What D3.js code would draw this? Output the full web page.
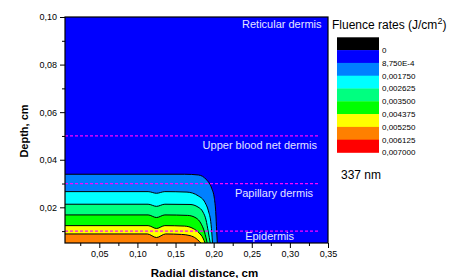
<!DOCTYPE html>
<html>
<head>
<meta charset="utf-8">
<script src="https://cdn.jsdelivr.net/npm/d3@7"></script>
<style>
  body { margin: 0; background: #fff; }
  text { font-family: Arial, "Liberation Sans", sans-serif; }
</style>
</head>
<body>
<svg id="chart" width="453" height="278"></svg>
<script>
// legend levels, J/cm2
var legendLabels = ["0", "8,750E-4", "0,001750", "0,002625", "0,003500", "0,004375", "0,005250", "0,006125", "0,007000"];
var legendColors = ["#000000", "#0000ff", "#0080ff", "#00ffff", "#00ff80", "#00ff00", "#ffff00", "#ff8000", "#ff0000"];

var xTicks = [0.05, 0.10, 0.15, 0.20, 0.25, 0.30, 0.35];
var yTicks = [0.02, 0.04, 0.06, 0.08, 0.10];

// contour boundaries: [radial distance, depth]
var bandDodger = [[0.005,0.0339],[0.162,0.0339],[0.1799,0.0336],[0.1909,0.0315],[0.1974,0.0280],[0.2009,0.0238],[0.2027,0.0182],[0.204,0.0098],[0.2048,0.005]];
var bandCyan   = [[0.005,0.0266],[0.114,0.0266],[0.125,0.0259],[0.136,0.0266],[0.165,0.0264],[0.1799,0.0248],[0.1887,0.0220],[0.1931,0.0185],[0.1966,0.0128],[0.1985,0.005]];
var bandSpring = [[0.005,0.0213],[0.114,0.0213],[0.125,0.0204],[0.136,0.0213],[0.169,0.0212],[0.1795,0.0201],[0.186,0.0180],[0.190,0.0147],[0.193,0.0096],[0.1955,0.005]];
var bandGreen  = [[0.005,0.0168],[0.114,0.0168],[0.125,0.0157],[0.136,0.0168],[0.166,0.0166],[0.177,0.0155],[0.183,0.0134],[0.188,0.0096],[0.1915,0.005]];
var bandYellow = [[0.005,0.0123],[0.114,0.0123],[0.125,0.0111],[0.136,0.0123],[0.162,0.0121],[0.173,0.0111],[0.181,0.0092],[0.186,0.0071],[0.1887,0.005]];
var bandOrange = [[0.005,0.0088],[0.113,0.0088],[0.125,0.0073],[0.137,0.0088],[0.158,0.0086],[0.169,0.0081],[0.177,0.0069],[0.1814,0.0056],[0.1834,0.005]];
var bands = [[bandDodger, 2], [bandCyan, 3], [bandSpring, 4], [bandGreen, 5], [bandYellow, 6], [bandOrange, 7]];

// layer borders (depth) and their names
var layerDepths = [0.05, 0.03, 0.01];
var layerNames = [
  {name: "Reticular dermis", r: 0.3415, d: 0.0953},
  {name: "Upper blood net dermis", r: 0.3355, d: 0.0446},
  {name: "Papillary dermis", r: 0.3305, d: 0.0244},
  {name: "Epidermis", r: 0.3055, d: 0.0061}
];

var margin = {left: 65, top: 17};
var w = 263, h = 226;
var svg = d3.select("#chart");
var g = svg.append("g").attr("transform", "translate(" + margin.left + "," + margin.top + ")");

var x = d3.scaleLinear().domain([0.005, 0.35]).range([0, w]);
var y = d3.scaleLinear().domain([0.005, 0.10]).range([h, 0]);
var comma = function(v) { return d3.format(".2f")(v).replace(".", ","); };

svg.append("defs").append("clipPath").attr("id", "clip")
  .append("rect").attr("width", w).attr("height", h);

var plot = g.append("g").attr("clip-path", "url(#clip)");
plot.append("rect").attr("width", w).attr("height", h).attr("fill", legendColors[1]);

var area = d3.area().x(function(d) { return x(d[0]); }).y0(y(0.005)).y1(function(d) { return y(d[1]); }).curve(d3.curveMonotoneX);
var line = d3.line().x(function(d) { return x(d[0]); }).y(function(d) { return y(d[1]); }).curve(d3.curveMonotoneX);

bands.forEach(function(b) {
  plot.append("path").attr("d", area(b[0])).attr("fill", legendColors[b[1]]);
  plot.append("path").attr("d", line(b[0])).attr("fill", "none").attr("stroke", "#000").attr("stroke-width", 1);
});

layerDepths.forEach(function(d) {
  plot.append("line")
    .attr("x1", x(0.005)).attr("x2", x(0.337))
    .attr("y1", y(d)).attr("y2", y(d))
    .attr("stroke", "#ff00ff").attr("stroke-width", 1.2).attr("stroke-dasharray", "3,2");
});

layerNames.forEach(function(l) {
  plot.append("text").attr("x", x(l.r)).attr("y", y(l.d))
    .attr("text-anchor", "end").attr("font-size", 11).attr("fill", "#e4e4ff").text(l.name);
});

// frame
g.append("rect").attr("width", w).attr("height", h).attr("fill", "none").attr("stroke", "#000").attr("stroke-width", 1.2);

// axes
var xMinor = xTicks.map(function(t) { return t - 0.025; });
var yMinor = yTicks.map(function(t) { return t - 0.01; });

var xAxis = g.append("g").attr("transform", "translate(0," + h + ")");
xAxis.call(d3.axisBottom(x).tickValues(xTicks).tickSize(5).tickFormat(comma));
xAxis.append("g").call(d3.axisBottom(x).tickValues(xMinor).tickSize(3).tickFormat(""));
var yAxis = g.append("g");
yAxis.call(d3.axisLeft(y).tickValues(yTicks).tickSize(5).tickFormat(comma));
yAxis.append("g").call(d3.axisLeft(y).tickValues(yMinor).tickSize(3).tickFormat(""));

g.selectAll(".domain").remove();
g.selectAll(".tick line").attr("stroke", "#000").attr("stroke-width", 1);
g.selectAll(".tick text").attr("font-size", 9).attr("fill", "#000")
  .attr("font-family", "Arial, 'Liberation Sans', sans-serif");
xAxis.selectAll(".tick text").attr("dy", "0.8em").attr("y", 7);
yAxis.selectAll(".tick text").attr("x", -8);

svg.append("text").attr("x", 204.5).attr("y", 277).attr("text-anchor", "middle")
  .attr("font-size", 11.5).attr("font-weight", "bold").text("Radial distance, cm");
svg.append("text").attr("transform", "translate(28," + 131 + ") rotate(-90)").attr("text-anchor", "middle")
  .attr("font-size", 11).attr("font-weight", "bold").text("Depth, cm");

// legend
var lg = svg.append("g").attr("transform", "translate(337,37.3)");
var boxH = 12.8;
var title = svg.append("text").attr("x", 332).attr("y", 28.5).attr("font-size", 12);
title.append("tspan").text("Fluence rates (J/cm");
title.append("tspan").attr("font-size", 9).attr("dy", -5).text("2");
title.append("tspan").attr("dy", 5).text(")");

lg.selectAll("rect").data(legendColors).enter().append("rect")
  .attr("x", 0).attr("y", function(d, i) { return i * boxH; })
  .attr("width", 42).attr("height", boxH + 0.3).attr("fill", function(d) { return d; });
lg.selectAll("text.lab").data(legendLabels).enter().append("text").attr("class", "lab")
  .attr("x", 45).attr("y", function(d, i) { return (i + 1) * boxH + 3; })
  .attr("font-size", 8).attr("fill", "#000").text(function(d) { return d; });

svg.append("text").attr("x", 341).attr("y", 179).attr("font-size", 12).text("337 nm");
</script>
</body>
</html>
